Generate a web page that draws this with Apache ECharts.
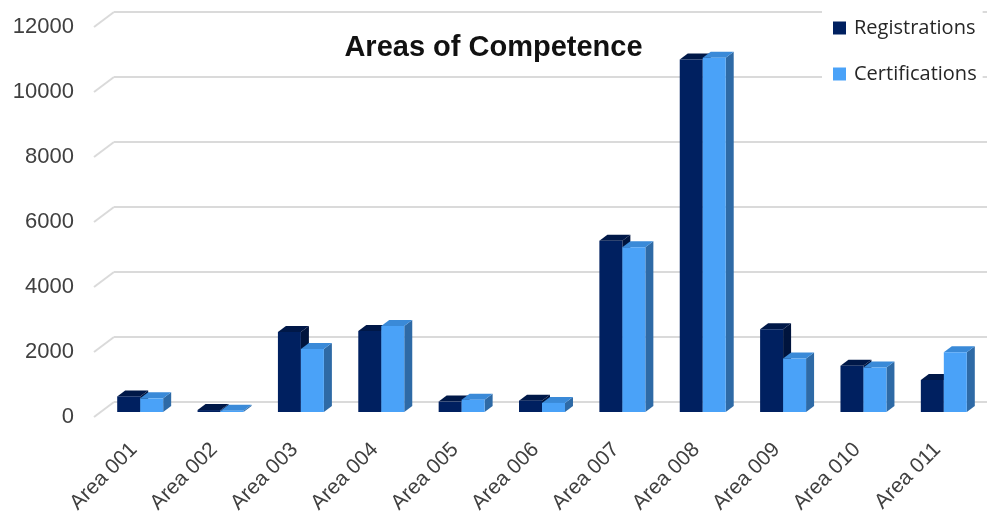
<!DOCTYPE html>
<html>
<head>
<meta charset="utf-8">
<script src="https://cdn.jsdelivr.net/npm/echarts@6/dist/echarts.min.js"></script>
<style>html,body{margin:0;padding:0;background:#fff}#c{width:987px;height:517px}</style>
</head>
<body>
<div id="c"></div>
<script>
const categories = ['Area 001','Area 002','Area 003','Area 004','Area 005','Area 006','Area 007','Area 008','Area 009','Area 010','Area 011'];
const registrations = [480, 60, 2460, 2490, 320, 350, 5270, 10850, 2550, 1420, 985];
const certifications = [420, 40, 1940, 2650, 380, 280, 5070, 10900, 1650, 1370, 1840];
const yTicks = [0, 2000, 4000, 6000, 8000, 10000, 12000];
const seriesNames = ['Registrations', 'Certifications'];

const palette = [
  {front:'#002060', top:'#001848', side:'#00143d'},
  {front:'#4aa2f8', top:'#3a8ad8', side:'#2e6aa6'}
];
const DX = 8, DY = -6, BAR_RATIO = 0.286;

function barRender(idx){
  return function(params, api){
    const i = api.value(0), v = api.value(1);
    const base = api.coord([i, 0]);
    const top = api.coord([i, v]);
    const band = api.size([1, 0])[0];
    const w = band * BAR_RATIO;
    const x0 = base[0] - w + idx * w;
    const yb = base[1], yt = top[1];
    const c = palette[idx];
    return {
      type: 'group',
      children: [
        {type:'polygon', shape:{points:[[x0+w,yt],[x0+w+DX,yt+DY],[x0+w+DX,yb+DY],[x0+w,yb]]}, style:{fill:c.side}},
        {type:'polygon', shape:{points:[[x0,yt],[x0+DX,yt+DY],[x0+w+DX,yt+DY],[x0+w,yt]]}, style:{fill:c.top}},
        {type:'rect', shape:{x:x0, y:yt, width:w, height:yb-yt}, style:{fill:c.front}}
      ]
    };
  };
}

const chart = echarts.init(document.getElementById('c'), null, {renderer:'canvas'});
const font = '"Liberation Sans", Arial, sans-serif';
chart.setOption({
  animation: false,
  backgroundColor: '#fff',
  title: {
    text: 'Areas of Competence', left: 'center', top: 28,
    textStyle: {fontFamily: font, fontSize: 29, fontWeight: 'bold', color: '#111'}
  },
  legend: {
    orient: 'vertical', left: 822, top: 0,
    padding: [18, 6, 18, 11], backgroundColor: '#fff',
    itemWidth: 13, itemHeight: 13, itemGap: 26,
    icon: 'rect',
    data: seriesNames,
    textStyle: {fontFamily: '"Open Sans", sans-serif', fontSize: 20, color: '#262626', padding: [0,0,0,3]}
  },
  grid: [
    {left: 94, right: 3, top: 27, bottom: 100},
    {left: 114, right: 0, top: 12, bottom: 115},
    {left: 100, right: 3, top: 22, bottom: 105}
  ],
  xAxis: [
    {gridIndex: 0, type: 'value', min: 0, max: 1, show: false},
    {gridIndex: 1, type: 'value', min: 0, max: 1, show: false},
    {gridIndex: 2, type: 'category', data: categories,
      axisLine: {show: false}, axisTick: {show: false},
      axisLabel: {interval: 0, rotate: 45, margin: 28, padding: [0, 9, 0, 0], fontFamily: font, fontSize: 21, color: '#404040'}}
  ],
  yAxis: [
    {gridIndex: 0, type: 'value', min: 0, max: 12000, interval: 2000,
      axisLine: {show: false}, axisTick: {show: false}, splitLine: {show: false},
      axisLabel: {margin: 20, fontFamily: font, fontSize: 22, color: '#404040', formatter: v => String(v)}},
    {gridIndex: 1, type: 'value', min: 0, max: 12000, interval: 2000,
      axisLine: {show: false}, axisTick: {show: false}, axisLabel: {show: false},
      splitLine: {show: true, lineStyle: {color: '#dadada', width: 2}}},
    {gridIndex: 2, type: 'value', min: 0, max: 12000, interval: 2000, show: false}
  ],
  series: [
    {
      type: 'custom', name: 'grid-diag', xAxisIndex: 1, yAxisIndex: 1, silent: true,
      data: yTicks.map(t => [0, t]),
      renderItem: function(params, api){
        const p = api.coord([0, api.value(1)]);
        return {type:'line', shape:{x1:p[0], y1:p[1], x2:p[0]-20, y2:p[1]+15},
          style:{stroke:'#dadada', lineWidth:2}};
      },
      z: 1
    },
    {
      type: 'custom', name: seriesNames[0], xAxisIndex: 2, yAxisIndex: 2,
      itemStyle: {color: palette[0].front},
      data: registrations.map((v, i) => [i, v]),
      encode: {x: 0, y: 1},
      renderItem: barRender(0), z: 3
    },
    {
      type: 'custom', name: seriesNames[1], xAxisIndex: 2, yAxisIndex: 2,
      itemStyle: {color: palette[1].front},
      data: certifications.map((v, i) => [i, v]),
      encode: {x: 0, y: 1},
      renderItem: barRender(1), z: 4
    }
  ]
});
</script>
</body>
</html>
